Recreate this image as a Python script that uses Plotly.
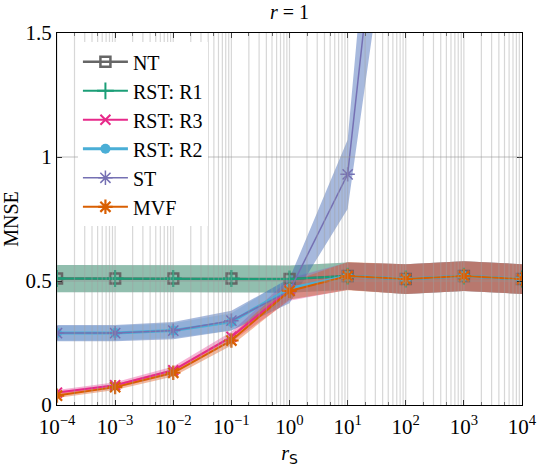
import plotly.graph_objects as go

# ---- data ----
x_vals = [1e-4, 1e-3, 1e-2, 1e-1, 1e0, 1e1, 1e2, 1e3, 1e4]
x_tick_labels = ["10<sup>−4</sup>", "10<sup>−3</sup>", "10<sup>−2</sup>", "10<sup>−1</sup>",
                 "10<sup>0</sup>", "10<sup>1</sup>", "10<sup>2</sup>", "10<sup>3</sup>", "10<sup>4</sup>"]
y_tick_vals = [0, 0.5, 1, 1.5]
y_tick_labels = ["0", "0.5", "1", "1.5"]

nt = [0.51, 0.51, 0.51, 0.51, 0.508, 0.52, 0.508, 0.52, 0.508]
nt_sd = [0.055, 0.055, 0.055, 0.055, 0.055, 0.055, 0.06, 0.06, 0.06]

r1 = [0.51, 0.51, 0.51, 0.51, 0.508, 0.52, 0.508, 0.52, 0.508]
r1_sd = [0.055, 0.055, 0.055, 0.055, 0.055, 0.055, 0.06, 0.06, 0.06]

r3 = [0.05, 0.08, 0.14, 0.275, 0.465, 0.52, 0.508, 0.52, 0.508]
r3_sd = [0.01, 0.012, 0.015, 0.02, 0.045, 0.055, 0.06, 0.06, 0.06]

r2 = [0.29, 0.29, 0.30, 0.335, 0.47, 0.52, 0.508, 0.52, 0.508]
r2_sd = [0.03, 0.03, 0.03, 0.035, 0.045, 0.055, 0.06, 0.06, 0.06]

st_x = [1e-4, 1e-3, 1e-2, 1e-1, 1e0, 1e1, 1e2]
st = [0.29, 0.29, 0.30, 0.34, 0.46, 0.93, 3.05]
st_sd = [0.033, 0.033, 0.035, 0.04, 0.05, 0.14, 0.6]

mvf = [0.038, 0.072, 0.13, 0.26, 0.46, 0.52, 0.508, 0.52, 0.508]
mvf_sd = [0.01, 0.012, 0.015, 0.02, 0.035, 0.057, 0.06, 0.06, 0.06]

series = [
    # name, x, y, sd, line color, band rgba, symbol, marker size, marker line width, line width
    ("NT", x_vals, nt, nt_sd, "#666666", "rgba(102,102,102,0.2)", "square-open", 10, 2.5, 2.5),
    ("RST: R1", x_vals, r1, r1_sd, "#1b9e77", "rgba(27,140,100,0.4)", "cross-thin-open", 12, 2, 2),
    ("RST: R3", x_vals, r3, r3_sd, "#e7298a", "rgba(231,41,138,0.36)", "x-thin-open", 10, 2, 2),
    ("RST: R2", x_vals, r2, r2_sd, "#4aaed6", "rgba(74,174,214,0.22)", "circle", 10, 0, 3),
    ("ST", st_x, st, st_sd, "#7570b3", "rgba(60,100,180,0.45)", "asterisk-open", 12, 1.5, 1.5),
    ("MVF", x_vals, mvf, mvf_sd, "#d95f02", "rgba(228,88,25,0.42)", "asterisk-open", 12, 2.2, 2),
]

fig = go.Figure()

# bands first
for name, xs, ys, sd, col, band, sym, ms, mlw, lw in series:
    upper = [v + s for v, s in zip(ys, sd)]
    lower = [v - s for v, s in zip(ys, sd)]
    fig.add_trace(go.Scatter(
        x=list(xs) + list(xs)[::-1], y=upper + lower[::-1],
        fill="toself", fillcolor=band, line=dict(width=0),
        mode="lines", hoverinfo="skip", showlegend=False))

# lines
for name, xs, ys, sd, col, band, sym, ms, mlw, lw in series:
    fig.add_trace(go.Scatter(
        x=xs, y=ys, name=name, mode="lines+markers",
        line=dict(color=col, width=lw),
        marker=dict(symbol=sym, size=ms, color=col, line=dict(color=col, width=mlw))))

# grid on top (axis on top style)
shapes = []
for d in range(-4, 4):
    for k in range(1, 10):
        xv = k * 10.0 ** d
        shapes.append(dict(type="line", xref="x", yref="paper", x0=xv, x1=xv, y0=0, y1=1,
                           line=dict(color="rgba(160,160,160,0.42)", width=1.2), layer="above"))
for yv in [0.5, 1.0]:
    shapes.append(dict(type="line", xref="paper", yref="y", x0=0, x1=1, y0=yv, y1=yv,
                       line=dict(color="rgba(150,150,150,0.6)", width=1.2), layer="above"))

font_family = "Liberation Serif, Times New Roman, serif"

fig.update_layout(
    width=538, height=467,
    margin=dict(l=57, r=16, t=33, b=62, autoexpand=False),
    paper_bgcolor="white", plot_bgcolor="white",
    font=dict(family=font_family, size=20, color="black"),
    title=dict(text="<i>r</i> = 1", x=0.5, xref="paper", y=1 - 12 / 467, yref="container",
               yanchor="middle", font=dict(family=font_family, size=20)),
    shapes=shapes,
    legend=dict(x=0.045, y=0.975, xanchor="left", yanchor="top", bgcolor="white",
                borderwidth=0, font=dict(family=font_family, size=20), itemwidth=45,
                tracegroupgap=0),
    showlegend=True,
)

fig.update_xaxes(
    type="log", range=[-4, 4], showgrid=False, automargin=False,
    tickvals=x_vals, ticktext=x_tick_labels, ticks="inside", ticklen=5, tickcolor="black",
    minor=dict(ticks="inside", ticklen=3, tickcolor="#555555", showgrid=False),
    showline=True, linecolor="black", linewidth=1, mirror="allticks", layer="above traces",
    ticklabelstandoff=3,
    title=dict(text="<i>r</i><sub><span style='font-family:DejaVu Sans'>S</span></sub>",
               standoff=13, font=dict(family=font_family, size=20)),
    tickfont=dict(family=font_family, size=21),
)
fig.update_yaxes(
    range=[0, 1.5], showgrid=False, zeroline=False, automargin=False,
    tickvals=y_tick_vals, ticktext=y_tick_labels, ticks="inside", ticklen=5, tickcolor="black",
    showline=True, linecolor="black", linewidth=1, mirror="allticks", layer="above traces",
    title=dict(text="MNSE", standoff=4, font=dict(family=font_family, size=20)),
    tickfont=dict(family=font_family, size=21),
)

fig.write_html("out.html", config={"displayModeBar": False},
               post_script="document.body.style.margin='0';")
